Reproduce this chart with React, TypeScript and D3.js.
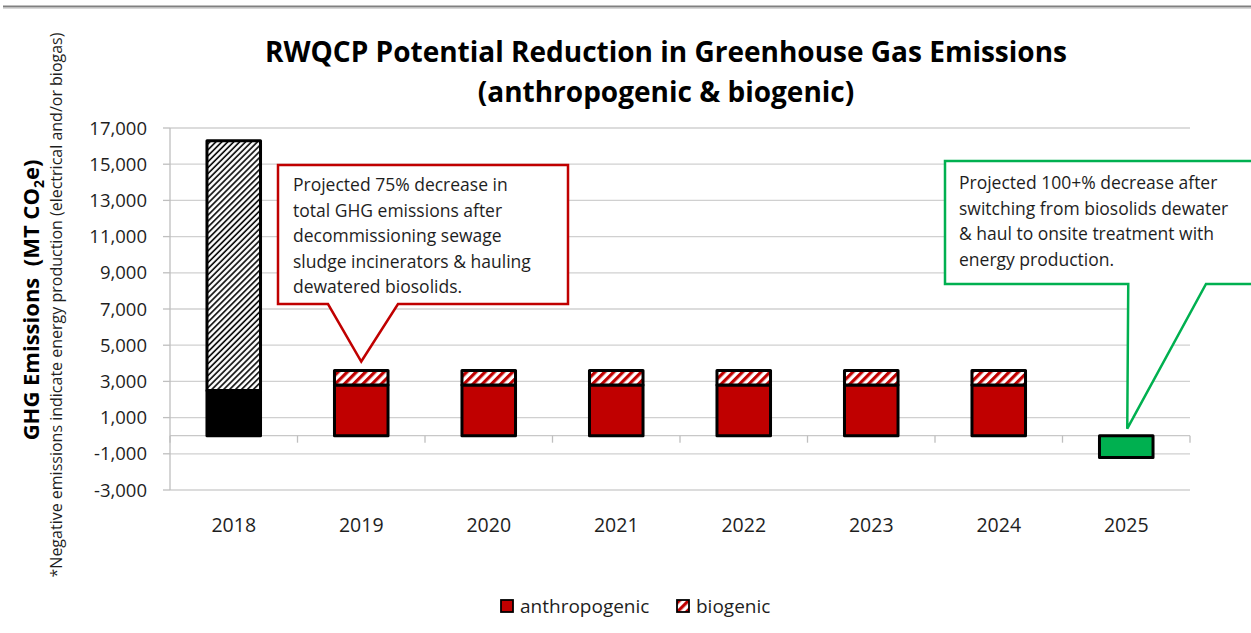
import React from 'react';
import * as d3 from 'd3';

const years = ['2018', '2019', '2020', '2021', '2022', '2023', '2024', '2025'];
const anthropogenic = [2500, 2800, 2800, 2800, 2800, 2800, 2800, -1200];
const biogenic = [13800, 800, 800, 800, 800, 800, 800, 0];
const yTicks = [17000, 15000, 13000, 11000, 9000, 7000, 5000, 3000, 1000, -1000, -3000];
const anthroColors = ['#000000', '#C00000', '#C00000', '#C00000', '#C00000', '#C00000', '#C00000', '#00B050'];
const bioPatterns = ['hatchBlack', 'hatchRed', 'hatchRed', 'hatchRed', 'hatchRed', 'hatchRed', 'hatchRed', 'hatchRed'];
const callout1Lines = [
  'Projected 75% decrease in',
  'total GHG emissions after',
  'decommissioning sewage',
  'sludge incinerators & hauling',
  'dewatered biosolids.',
];
const callout2Lines = [
  'Projected 100+% decrease after',
  'switching from biosolids dewater',
  '& haul to onsite treatment with',
  'energy production.',
];

const W = 1251;
const H = 633;
const FONT = '"Open Sans", Lato, sans-serif';
const INK = '#1e1e1e';

export default function App() {
  const x = d3.scaleBand<string>().domain(years).range([170, 1190]).paddingInner(0).paddingOuter(0);
  const y = d3.scaleLinear().domain([-3000, 17000]).range([490, 128]);
  const bw = x.bandwidth() * 0.42;
  const fmt = (v: number) => d3.format(',')(v).replace('\u2212', '-');

  const c1x = (x('2019') as number) + x.bandwidth() / 2;
  const c1tipY = y(anthropogenic[1] + biogenic[1]) - 9;
  const c2x = (x('2025') as number) + x.bandwidth() / 2;
  const c2tipY = y(0) - 7;

  const callout1 = `M278,165 L568,165 L568,304 L398,304 L${c1x},${c1tipY} L328,304 L278,304 Z`;
  const callout2 = `M945,161 L1270,161 L1270,284 L1206,284 L${c2x + 1},${c2tipY} L${c2x + 2},284 L945,284 Z`;

  return (
    <svg width={W} height={H} style={{ position: 'absolute', left: 0, top: 0, background: '#fff' }} fontFamily={FONT}>
      <defs>
        <pattern id="hatchBlack" patternUnits="userSpaceOnUse" width={4.2} height={4.2} patternTransform="rotate(45)">
          <rect width={4.2} height={4.2} fill="#fff" />
          <line x1={1} y1={0} x2={1} y2={4.2} stroke="#000" strokeWidth={1.6} />
        </pattern>
        <pattern id="hatchRed" patternUnits="userSpaceOnUse" width={6.5} height={6.5} patternTransform="rotate(45)">
          <rect width={6.5} height={6.5} fill="#fff" />
          <line x1={1.6} y1={0} x2={1.6} y2={6.5} stroke="#C00000" strokeWidth={3.2} />
        </pattern>
      </defs>

      <line x1={3} x2={W} y1={6.5} y2={6.5} stroke="#808080" strokeWidth={2} />
      <line x1={3} x2={W} y1={8.5} y2={8.5} stroke="#d8d8d8" strokeWidth={1} />

      {/* title */}
      <text x={666} y={62} textAnchor="middle" fontSize={28} fontWeight="bold" fill="#000">
        RWQCP Potential Reduction in Greenhouse Gas Emissions
      </text>
      <text x={666} y={102} textAnchor="middle" fontSize={28} fontWeight="bold" fill="#000">
        (anthropogenic &amp; biogenic)
      </text>

      {/* gridlines */}
      {yTicks.map((t) => (
        <line key={t} x1={170} x2={1190} y1={y(t)} y2={y(t)} stroke="#d0d0d0" strokeWidth={1.3} />
      ))}
      <line x1={170} x2={1190} y1={y(0)} y2={y(0)} stroke="#c8c8c8" strokeWidth={1.3} />
      {/* y axis */}
      <line x1={170} x2={170} y1={y(17000)} y2={y(-3000)} stroke="#bfbfbf" strokeWidth={1.3} />
      {yTicks.map((t) => (
        <g key={'yt' + t}>
          <line x1={163} x2={170} y1={y(t)} y2={y(t)} stroke="#bfbfbf" strokeWidth={1.3} />
          <text x={147} y={y(t) + 6.5} textAnchor="end" fontSize={18.5} fill={INK}>
            {fmt(t)}
          </text>
        </g>
      ))}
      {/* x ticks */}
      {years.map((yr) => (
        <line key={'xt' + yr} x1={(x(yr) as number)} x2={(x(yr) as number)} y1={y(0)} y2={y(0) + 7} stroke="#bfbfbf" strokeWidth={1.3} />
      ))}
      <line x1={1190} x2={1190} y1={y(0)} y2={y(0) + 7} stroke="#bfbfbf" strokeWidth={1.3} />
      {years.map((yr) => (
        <text key={'xl' + yr} x={(x(yr) as number) + x.bandwidth() / 2} y={532} textAnchor="middle" fontSize={19.5} fill={INK}>
          {yr}
        </text>
      ))}

      {/* bars */}
      {years.map((yr, i) => {
        const cx = (x(yr) as number) + x.bandwidth() / 2;
        const a = anthropogenic[i];
        const b = biogenic[i];
        const aTop = y(Math.max(a, 0));
        const aBot = y(Math.min(a, 0));
        return (
          <g key={'bar' + yr}>
            <rect x={cx - bw / 2} y={aTop} width={bw} height={aBot - aTop} fill={anthroColors[i]} stroke="#000" strokeWidth={3} strokeLinejoin="round" />
            {b > 0 && (
              <rect x={cx - bw / 2} y={y(a + b)} width={bw} height={y(a) - y(a + b)} fill={`url(#${bioPatterns[i]})`} stroke="#000" strokeWidth={3} strokeLinejoin="round" />
            )}
          </g>
        );
      })}

      {/* callouts */}
      <path d={callout1} fill="#fff" stroke="#C00000" strokeWidth={2.5} strokeLinejoin="miter" />
      {callout1Lines.map((l, i) => (
        <text key={'c1' + i} x={293} y={191 + i * 25.5} fontSize={17.5} fill={INK}>
          {l}
        </text>
      ))}
      <path d={callout2} fill="#fff" stroke="#00B050" strokeWidth={2.5} strokeLinejoin="miter" />
      {callout2Lines.map((l, i) => (
        <text key={'c2' + i} x={959} y={189 + i * 25.5} fontSize={17.5} fill={INK}>
          {l}
        </text>
      ))}

      {/* y axis titles */}
      <text transform={`translate(39,${300}) rotate(-90)`} textAnchor="middle" fontSize={22} fontWeight="bold" fill="#000">
        {'GHG Emissions \u00a0(MT CO'}
        <tspan fontSize={14} dy={5}>2</tspan>
        <tspan dy={-5}>e)</tspan>
      </text>
      <text transform={`translate(62,${305}) rotate(-90)`} textAnchor="middle" fontSize={16} fill={INK}>
        *Negative emissions indicate energy production (electrical and/or biogas)
      </text>

      {/* legend */}
      <rect x={501} y={600} width={12} height={12} fill="#C00000" stroke="#000" strokeWidth={1.8} />
      <text x={520} y={613} fontSize={19} fill={INK}>anthropogenic</text>
      <rect x={677} y={600} width={12} height={12} fill="url(#hatchRed)" stroke="#000" strokeWidth={1.8} />
      <text x={696} y={613} fontSize={19} fill={INK}>biogenic</text>
    </svg>
  );
}
